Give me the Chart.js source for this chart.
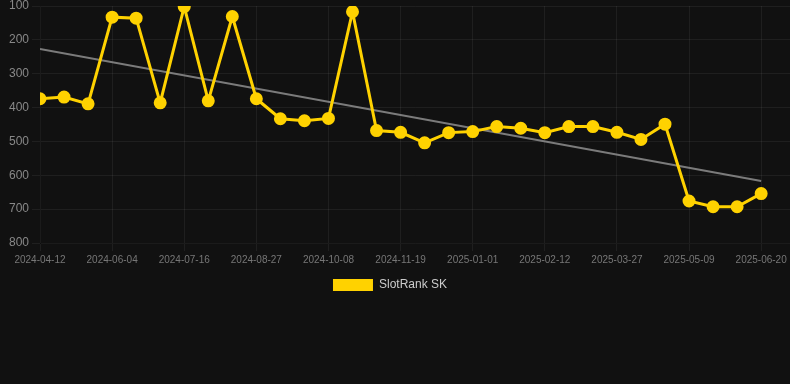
<!DOCTYPE html>
<html>
<head>
<meta charset="utf-8">
<script src="https://cdn.jsdelivr.net/npm/chart.js@4"></script>
<style>
  html, body { margin: 0; padding: 0; background: #111111; }
  #wrap { width: 790px; height: 301px; position: relative; }
</style>
</head>
<body>
<div id="wrap"><canvas id="rankChart"></canvas></div>
<script>
// dates (one point every ~2 weeks)
const dates = [
    '2024-04-12', '2024-04-26', '2024-05-21', '2024-06-04', '2024-06-18', '2024-07-02',
    '2024-07-16', '2024-07-30', '2024-08-13', '2024-08-27', '2024-09-10', '2024-09-24',
    '2024-10-08', '2024-10-22', '2024-11-05', '2024-11-19', '2024-12-03', '2024-12-17',
    '2025-01-01', '2025-01-15', '2025-01-29', '2025-02-12', '2025-02-26', '2025-03-12',
    '2025-03-27', '2025-04-10', '2025-04-24', '2025-05-09', '2025-05-23', '2025-06-06',
    '2025-06-20'
];

// rank values
const rankValues = [
    374, 369, 389, 133, 136, 386, 102, 380, 131, 374, 433, 439, 432, 117, 468, 473,
    504, 474, 471, 456, 461, 474, 456, 456, 473, 494, 449, 676, 693, 693, 654
];

// trend line end values (first and last date)
const trendEnds = [227, 617];

const yRange = [100, 800];

// legend sits a bit left of centre in the original
const legendShift = {
    id: 'legendShift',
    afterLayout(chart) {
        chart.legend.right = chart.legend.left + 780;
    }
};

const ctx = document.getElementById('rankChart').getContext('2d');
new Chart(ctx, {
    type: 'line',
    data: {
        datasets: [{
            label: 'SlotRank SK',
            data: rankValues.map((v, i) => ({ x: i, y: v })),
            borderColor: '#ffd200',
            backgroundColor: '#ffd200',
            borderWidth: 3,
            pointRadius: 5,
            pointBackgroundColor: '#ffd200',
            pointBorderColor: '#ffd200',
            tension: 0
        }, {
            label: 'trend',
            data: [{ x: 0, y: trendEnds[0] }, { x: dates.length - 1, y: trendEnds[1] }],
            borderColor: 'rgba(150,150,150,0.8)',
            borderWidth: 2,
            pointRadius: 0,
            tension: 0
        }]
    },
    options: {
        responsive: true,
        maintainAspectRatio: false,
        animation: false,
        layout: { autoPadding: false },
        plugins: {
            legend: {
                position: 'bottom',
                labels: {
                    color: '#cccccc',
                    font: { size: 12 },
                    generateLabels: function(chart) {
                        return Chart.defaults.plugins.legend.labels.generateLabels(chart)
                            .filter(item => item.text !== 'trend')
                            .map(item => Object.assign(item, { lineWidth: 0 }));
                    }
                }
            },
            tooltip: { enabled: false }
        },
        scales: {
            x: {
                type: 'linear',
                bounds: 'data',
                min: 0,
                max: 31.2,
                grid: { color: 'rgba(255,255,255,0.06)' },
                afterFit: function(scale) {
                    scale.paddingLeft = 0;
                    scale.paddingRight = 0;
                },
                ticks: {
                    stepSize: 3,
                    includeBounds: false,
                    maxRotation: 0,
                    autoSkip: false,
                    color: '#777777',
                    font: { size: 10 },
                    callback: function(value) {
                        return dates[value] || '';
                    }
                }
            },
            y: {
                reverse: true,
                min: yRange[0],
                max: yRange[1],
                grid: { color: 'rgba(255,255,255,0.06)' },
                afterFit: function(scale) {
                    scale.width = 40;
                    scale.paddingTop = 6;
                    scale.paddingBottom = 0;
                },
                ticks: {
                    stepSize: 100,
                    color: '#888888',
                    font: { size: 12 }
                }
            }
        }
    },
    plugins: [legendShift]
});
</script>
</body>
</html>
